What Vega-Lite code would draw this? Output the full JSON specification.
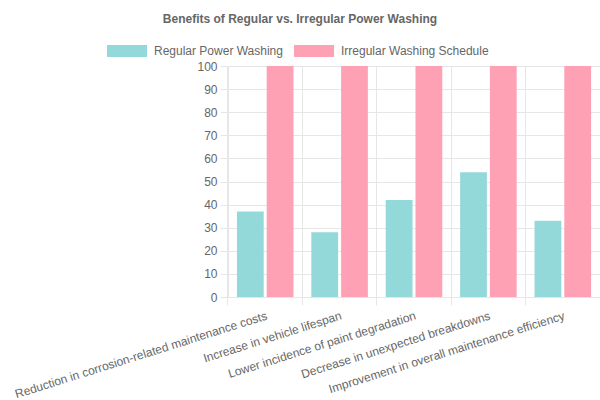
{
  "$schema": "https://vega.github.io/schema/vega-lite/v6.json",
  "width": 372,
  "height": 231,
  "autosize": {"type": "none"},
  "padding": {"left": 228, "top": 66, "right": 0, "bottom": 103},
  "background": "white",
  "title": {
    "text": "Benefits of Regular vs. Irregular Power Washing",
    "anchor": "middle",
    "frame": "group",
    "dx": -114,
    "font": "Liberation Sans",
    "fontSize": 12,
    "fontWeight": "bold",
    "color": "#666666",
    "offset": 5
  },
  "config": {
    "view": {"stroke": null},
    "font": "Liberation Sans"
  },
  "data": {
    "values": [
      {"category": "Reduction in corrosion-related maintenance costs", "series": "Regular Power Washing", "value": 37},
      {"category": "Reduction in corrosion-related maintenance costs", "series": "Irregular Washing Schedule", "value": 100},
      {"category": "Increase in vehicle lifespan", "series": "Regular Power Washing", "value": 28},
      {"category": "Increase in vehicle lifespan", "series": "Irregular Washing Schedule", "value": 100},
      {"category": "Lower incidence of paint degradation", "series": "Regular Power Washing", "value": 42},
      {"category": "Lower incidence of paint degradation", "series": "Irregular Washing Schedule", "value": 100},
      {"category": "Decrease in unexpected breakdowns", "series": "Regular Power Washing", "value": 54},
      {"category": "Decrease in unexpected breakdowns", "series": "Irregular Washing Schedule", "value": 100},
      {"category": "Improvement in overall maintenance efficiency", "series": "Regular Power Washing", "value": 33},
      {"category": "Improvement in overall maintenance efficiency", "series": "Irregular Washing Schedule", "value": 100}
    ]
  },
  "mark": {"type": "bar"},
  "encoding": {
    "x": {
      "field": "category",
      "type": "nominal",
      "sort": null,
      "title": null,
      "scale": {"paddingInner": 0.2, "paddingOuter": 0.1},
      "axis": {
        "bandPosition": -0.125,
        "labelAngle": -17.5,
        "labelAlign": "right",
        "labelBaseline": "top",
        "labelPadding": 5,
        "labelLimit": 0,
        "labelFontSize": 12,
        "labelColor": "#666666",
        "labelFont": "Liberation Sans",
        "grid": true,
        "gridColor": "#e6e6e6",
        "tickColor": "#e6e6e6",
        "tickSize": 8,
        "domainColor": "#e6e6e6"
      }
    },
    "xOffset": {
      "field": "series",
      "type": "nominal",
      "sort": ["Regular Power Washing", "Irregular Washing Schedule"],
      "scale": {"paddingInner": 0.1, "paddingOuter": 0.05}
    },
    "y": {
      "field": "value",
      "type": "quantitative",
      "title": null,
      "scale": {"domain": [0, 100], "nice": false},
      "axis": {
        "values": [0, 10, 20, 30, 40, 50, 60, 70, 80, 90, 100],
        "labelFontSize": 12,
        "labelColor": "#666666",
        "labelFont": "Liberation Sans",
        "labelPadding": 3,
        "tickSize": 8,
        "tickColor": "#e6e6e6",
        "gridColor": "#e6e6e6",
        "domainColor": "#e6e6e6"
      }
    },
    "color": {
      "field": "series",
      "type": "nominal",
      "sort": ["Regular Power Washing", "Irregular Washing Schedule"],
      "scale": {"range": ["#93d9d9", "#ffa1b5"]},
      "legend": {
        "title": null,
        "orient": "none",
        "legendX": -121,
        "legendY": -35,
        "direction": "horizontal",
        "symbolType": "M-1,-0.3H1V0.3H-1Z",
        "symbolSize": 1600,
        "symbolStrokeWidth": 0,
        "symbolOpacity": 1,
        "labelFontSize": 12,
        "labelColor": "#666666",
        "labelFont": "Liberation Sans",
        "labelOffset": 7,
        "columnPadding": 11,
        "padding": 0
      }
    }
  }
}
